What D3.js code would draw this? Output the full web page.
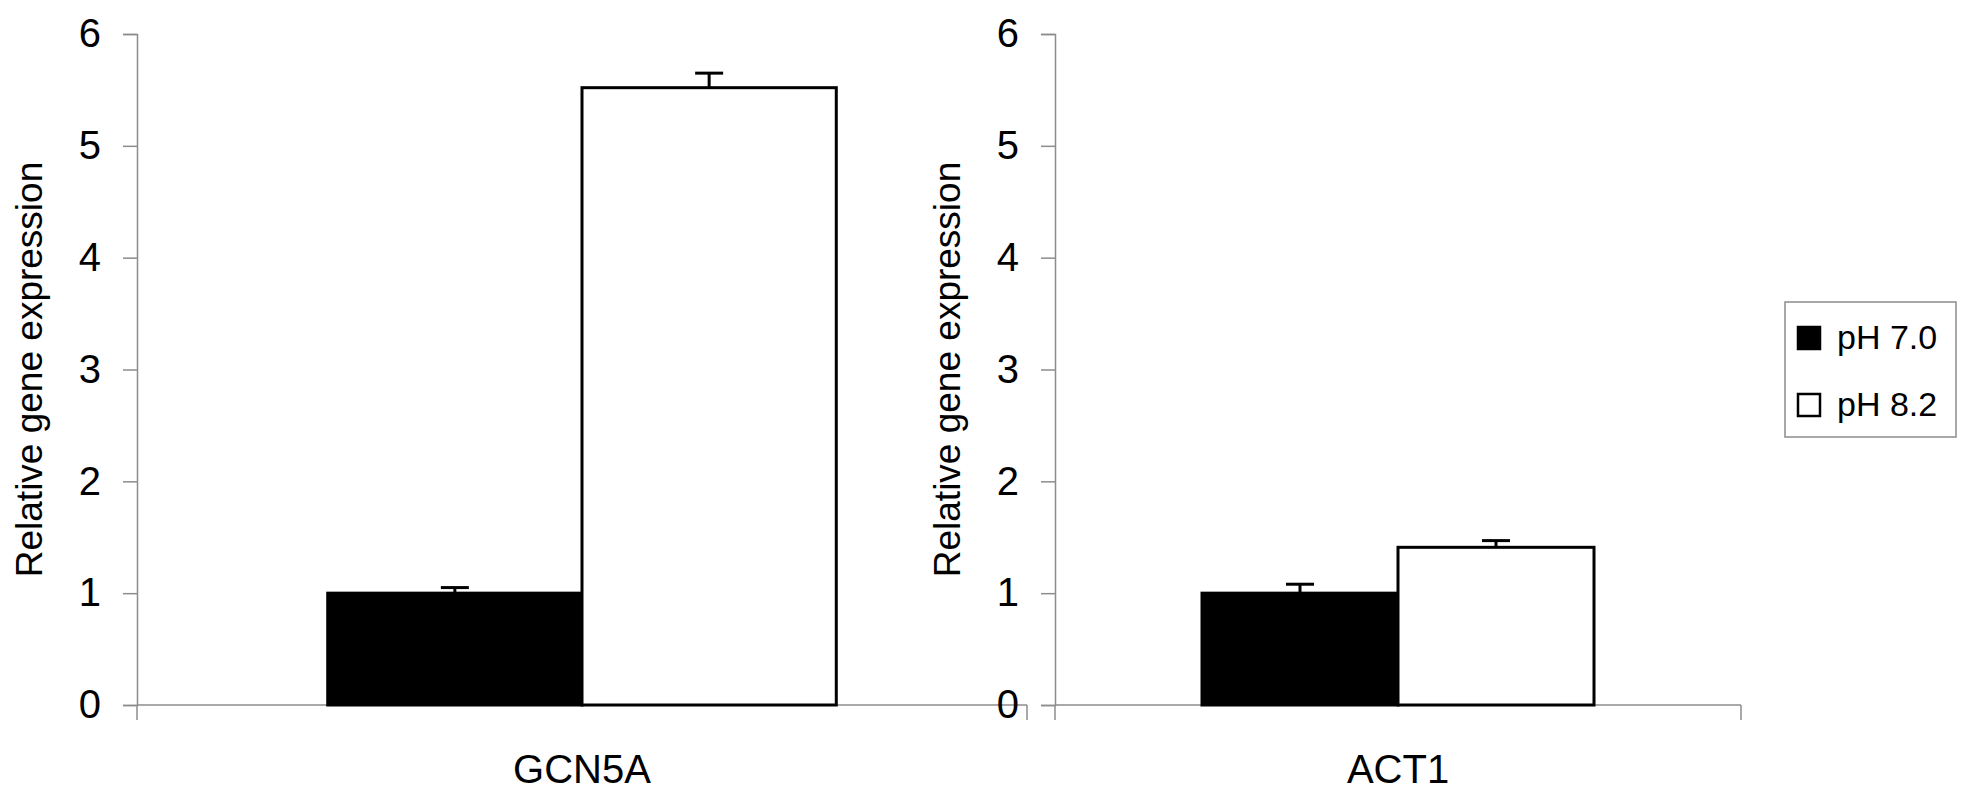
<!DOCTYPE html>
<html>
<head>
<meta charset="utf-8">
<script src="https://cdn.jsdelivr.net/npm/d3@7"></script>
<style>
    body { margin: 0; background: #fff; }
    text { font-family: "Liberation Sans", Arial, sans-serif; fill: #000; }
</style>
</head>
<body>
<script>
// chart values
var genes = ["GCN5A", "ACT1"];
var seriesNames = ["pH 7.0", "pH 8.2"];
var gcn5aValues = [1.0, 5.52];
var gcn5aErrors = [0.05, 0.13];
var act1Values = [1.0, 1.41];
var act1Errors = [0.08, 0.06];
var yTicks = [0, 1, 2, 3, 4, 5, 6];
var seriesFill = ["#000", "#fff"];

var width = 1972,
    height = 800;

var svg = d3.select("body")
    .append("svg")
    .attr("width", width)
    .attr("height", height);

var y = d3.scaleLinear()
    .domain([0, 6])
    .range([705, 34]);

function drawPanel(gene, values, errors, left, right, titleX) {
    /*
    one panel: y axis, category axis, two bars with error bars
    */
    var g = svg.append("g");

    var x = d3.scaleBand()
        .domain([gene])
        .range([left, right])
        .paddingInner(0)
        .paddingOuter(0.375);
    var xs = d3.scaleBand()
        .domain(seriesNames)
        .range([0, x.bandwidth()]);

    var rows = seriesNames.map(function(s, i) {
        return { name: s, value: values[i], err: errors[i], fill: seriesFill[i] };
    });

    // y axis
    var yAxis = g.append("g")
        .attr("transform", "translate(" + left + ",0)")
        .call(d3.axisLeft(y)
            .tickValues(yTicks)
            .tickFormat(d3.format("d"))
            .tickSize(14)
            .tickPadding(22));
    yAxis.select(".domain").attr("stroke", "#8c8c8c").attr("stroke-width", 1.5);
    yAxis.selectAll(".tick line").attr("stroke", "#8c8c8c").attr("stroke-width", 1.5);
    yAxis.selectAll(".tick text")
        .style("font-size", "40px")
        .style("font-family", "Liberation Sans, Arial, sans-serif")
        .attr("fill", "#000");

    // category axis, with tick marks at both ends
    g.append("line")
        .attr("x1", left).attr("x2", right)
        .attr("y1", y(0)).attr("y2", y(0))
        .attr("stroke", "#8c8c8c").attr("stroke-width", 1.5);
    [left, right].forEach(function(px) {
        g.append("line")
            .attr("x1", px).attr("x2", px)
            .attr("y1", y(0)).attr("y2", y(0) + 15)
            .attr("stroke", "#8c8c8c").attr("stroke-width", 1.5);
    });
    g.append("text")
        .attr("x", x(gene) + x.bandwidth() / 2)
        .attr("y", 783)
        .attr("text-anchor", "middle")
        .style("font-size", "40px")
        .text(gene);

    // bars
    g.selectAll("rect.bar")
        .data(rows)
        .enter()
        .append("rect")
        .attr("class", "bar")
        .attr("x", function(d) { return x(gene) + xs(d.name); })
        .attr("y", function(d) { return y(d.value); })
        .attr("width", xs.bandwidth())
        .attr("height", function(d) { return y(0) - y(d.value); })
        .attr("fill", function(d) { return d.fill; })
        .attr("stroke", "#000")
        .attr("stroke-width", 3);

    // error bars (upper only)
    var eb = g.selectAll("g.err")
        .data(rows)
        .enter()
        .append("g")
        .attr("class", "err");
    eb.append("line")
        .attr("x1", function(d) { return x(gene) + xs(d.name) + xs.bandwidth() / 2; })
        .attr("x2", function(d) { return x(gene) + xs(d.name) + xs.bandwidth() / 2; })
        .attr("y1", function(d) { return y(d.value); })
        .attr("y2", function(d) { return y(d.value + d.err); })
        .attr("stroke", "#000").attr("stroke-width", 3);
    eb.append("line")
        .attr("x1", function(d) { return x(gene) + xs(d.name) + xs.bandwidth() / 2 - 14; })
        .attr("x2", function(d) { return x(gene) + xs(d.name) + xs.bandwidth() / 2 + 14; })
        .attr("y1", function(d) { return y(d.value + d.err); })
        .attr("y2", function(d) { return y(d.value + d.err); })
        .attr("stroke", "#000").attr("stroke-width", 3);

    // y title
    g.append("text")
        .attr("transform", "translate(" + titleX + "," + ((y(0) + y(6)) / 2) + ") rotate(-90)")
        .attr("text-anchor", "middle")
        .style("font-size", "37px")
        .text("Relative gene expression");
}

drawPanel(genes[0], gcn5aValues, gcn5aErrors, 137, 1027, 42);
drawPanel(genes[1], act1Values, act1Errors, 1055, 1741, 960);

// legend
var legend = svg.append("g");
legend.append("rect")
    .attr("x", 1785).attr("y", 302)
    .attr("width", 171).attr("height", 135)
    .attr("fill", "#fff")
    .attr("stroke", "#8c8c8c").attr("stroke-width", 1.5);
seriesNames.forEach(function(s, i) {
    var cy = 338 + i * 67;
    legend.append("rect")
        .attr("x", 1798).attr("y", cy - 11)
        .attr("width", 22).attr("height", 22)
        .attr("fill", seriesFill[i])
        .attr("stroke", "#000").attr("stroke-width", 2.5);
    legend.append("text")
        .attr("x", 1837).attr("y", cy + 11)
        .style("font-size", "34px")
        .text(s);
});
</script>
</body>
</html>
